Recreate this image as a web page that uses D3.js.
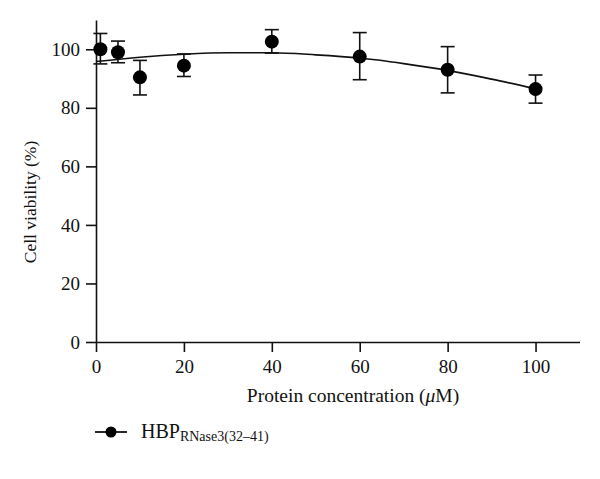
<!DOCTYPE html>
<html><head><meta charset="utf-8">
<script src="https://cdn.jsdelivr.net/npm/d3@7"></script>
<style>body{margin:0;background:#fff}svg{display:block}text{font-family:"Liberation Serif","DejaVu Serif",serif;fill:#111}</style>
</head><body><div id="chart"></div>
<script>
const concentrations = [1, 5, 10, 20, 40, 60, 80, 100];
const viability = [100.0, 99.0, 90.4, 94.4, 102.6, 97.5, 93.0, 86.4];
const errUpper = [105.4, 102.8, 96.2, 98.4, 106.7, 105.7, 100.9, 91.2];
const errLower = [95.0, 95.4, 84.4, 90.7, 98.7, 89.6, 85.1, 81.6];
const curveX = [0, 10, 20, 30, 40, 50, 60, 70, 80, 90, 100];
const curveY = [95.8, 97.3, 98.3, 98.8, 98.8, 98.1, 97.0, 95.1, 92.8, 89.8, 86.5];
const xTicks = [0, 20, 40, 60, 80, 100];
const yTicks = [0, 20, 40, 60, 80, 100];
const seriesName = "HBP";
const seriesSub = "RNase3(32–41)";

const W = 600, H = 479;
const svg = d3.select("#chart").append("svg").attr("width", W).attr("height", H);
const x = d3.scaleLinear().domain([0, 110]).range([96, 579.5]);
const y = d3.scaleLinear().domain([0, 110]).range([342, 20]);

const xAxis = svg.append("g").attr("transform", "translate(0,342)")
  .call(d3.axisBottom(x).tickValues(xTicks).tickSize(10).tickPadding(8).tickSizeOuter(0));
const yAxis = svg.append("g").attr("transform", "translate(96,0)")
  .call(d3.axisLeft(y).tickValues(yTicks).tickSize(10).tickPadding(6).tickSizeOuter(0));
[xAxis, yAxis].forEach(g => {
  g.select(".domain").attr("stroke", "#111").attr("stroke-width", 1.6);
  g.selectAll(".tick line").attr("stroke", "#111").attr("stroke-width", 1.6);
  g.selectAll(".tick text").style("font-size", "19px").attr("fill", "#111");
});

svg.append("text").attr("x", 353).attr("y", 402).attr("text-anchor", "middle").style("font-size", "19.5px")
  .html('Protein concentration (<tspan font-style="italic">μ</tspan>M)');
svg.append("text").attr("transform", "translate(36,202) rotate(-90)").attr("text-anchor", "middle").style("font-size", "17.5px")
  .text("Cell viability (%)");

const line = d3.line().x((d, i) => x(curveX[i])).y(d => y(d)).curve(d3.curveMonotoneX);
svg.append("path").datum(curveY).attr("d", line).attr("fill", "none").attr("stroke", "#111").attr("stroke-width", 1.6);

const g = svg.append("g");
concentrations.forEach((c, i) => {
  const cx = x(c);
  g.append("line").attr("x1", cx).attr("x2", cx).attr("y1", y(errUpper[i])).attr("y2", y(errLower[i])).attr("stroke", "#111").attr("stroke-width", 1.6);
  [errUpper[i], errLower[i]].forEach(v => g.append("line").attr("x1", cx - 7).attr("x2", cx + 7).attr("y1", y(v)).attr("y2", y(v)).attr("stroke", "#111").attr("stroke-width", 1.6));
  g.append("circle").attr("cx", cx).attr("cy", y(viability[i])).attr("r", 7).attr("fill", "#000");
});

const leg = svg.append("g");
leg.append("line").attr("x1", 95).attr("x2", 127).attr("y1", 432).attr("y2", 432).attr("stroke", "#111").attr("stroke-width", 1.8);
leg.append("circle").attr("cx", 111).attr("cy", 432).attr("r", 5.5).attr("fill", "#000");
const lt = leg.append("text").attr("x", 141).attr("y", 438).style("font-size", "20px");
lt.append("tspan").text(seriesName);
lt.append("tspan").attr("dy", 3).style("font-size", "14px").text(seriesSub);
</script></body></html>
